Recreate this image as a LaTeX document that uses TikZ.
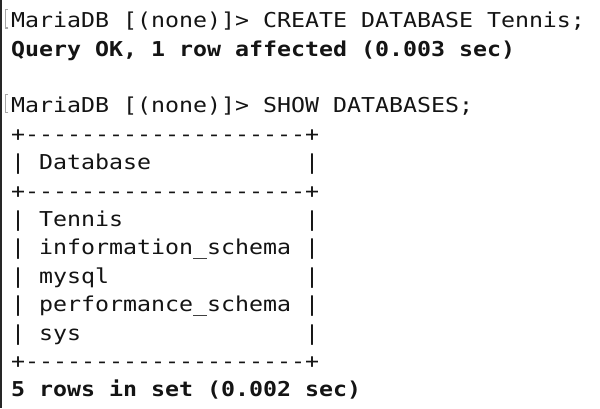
\documentclass[tikz,border=0pt]{standalone}
\usepackage{fontspec}
\setmonofont{DejaVu Sans Mono}[FakeStretch=1.134]
\usetikzlibrary{positioning}
\tikzset {
  % one line of terminal output
  shell line/.style = {
    inner sep = 0,
    text height = 20pt,
    text depth = 8pt,
    font = \fontsize{20.5}{28}\selectfont\ttfamily,
    text = black!92
  },
  % server reply in bold
  shell bold/.style = {
    shell line,
    font = \fontsize{20.5}{28}\selectfont\ttfamily\bfseries
  },
  % grey mark the terminal puts before a prompt
  prompt mark/.style = {
    draw = black!35,
    line width = 1.1pt
  },
  node distance = 0pt
}

\begin{document}
\begin{tikzpicture}[x=1pt, y=1pt]
    \useasboundingbox (0,0) rectangle (600,408);
    \fill[white] (0,0) rectangle (600,408);
    \fill[black!85] (0,0) rectangle (2.3,408);

    \node[shell line, anchor=base west] (create) at (11,380)
      {MariaDB [(none)]> CREATE DATABASE Tennis;};
    \node[shell bold] (query-ok) [below=of create.south west, anchor=north west]
      {Query OK, 1 row affected (0.003 sec)};
    \node[shell line] (show) [below=28pt of query-ok.south west, anchor=north west]
      {MariaDB [(none)]> SHOW DATABASES;};
    \node[shell line] (top-rule) [below=of show.south west, anchor=north west]
      {+--------------------+};
    \node[shell line] (header) [below=of top-rule.south west, anchor=north west]
      {|~Database~~~~~~~~~~~|};
    \node[shell line] (mid-rule) [below=of header.south west, anchor=north west]
      {+--------------------+};
    \node[shell line] (row-tennis) [below=of mid-rule.south west, anchor=north west]
      {|~Tennis~~~~~~~~~~~~~|};
    \node[shell line] (row-info) [below=of row-tennis.south west, anchor=north west]
      {|~information\_schema~|};
    \node[shell line] (row-mysql) [below=of row-info.south west, anchor=north west]
      {|~mysql~~~~~~~~~~~~~~|};
    \node[shell line] (row-perf) [below=of row-mysql.south west, anchor=north west]
      {|~performance\_schema~|};
    \node[shell line] (row-sys) [below=of row-perf.south west, anchor=north west]
      {|~sys~~~~~~~~~~~~~~~~|};
    \node[shell line] (bottom-rule) [below=of row-sys.south west, anchor=north west]
      {+--------------------+};
    \node[shell bold] (summary) [below=of bottom-rule.south west, anchor=north west]
      {5 rows in set (0.002 sec)};

    \draw[prompt mark] ([xshift=-2.8pt]create.base west)
    -- ++(-2.6,0)
    -- ++(0,18.5)
    -- ++(2.6,0);

    \draw[prompt mark] ([xshift=-2.8pt]show.base west)
    -- ++(-2.6,0)
    -- ++(0,18.5)
    -- ++(2.6,0);
  \end{tikzpicture}
\end{document}
